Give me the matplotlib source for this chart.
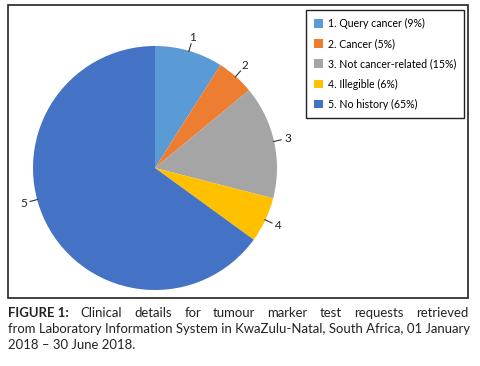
import matplotlib
matplotlib.use("Agg")
import matplotlib.pyplot as plt
import numpy as np
from matplotlib.patches import Rectangle

plt.rcParams['font.family'] = ['Lato', 'DejaVu Sans']

labels = ["1", "2", "3", "4", "5"]
legend_labels = ["1. Query cancer (9%)", "2. Cancer (5%)", "3. Not cancer-related (15%)",
                 "4. Illegible (6%)", "5. No history (65%)"]
values = [9, 5, 15, 6, 65]
colors = ["#5B9BD5", "#ED7D31", "#A5A5A5", "#FFC000", "#4472C4"]

W, H = 480, 366
fig = plt.figure(figsize=(W/100, H/100), dpi=100)

def fx(px): return px / W
def fy(py): return 1 - py / H

# outer frame
fig.add_artist(Rectangle((fx(8), fy(298)), fx(468) - fx(8), fy(5) - fy(298),
                         transform=fig.transFigure, fill=False, edgecolor="#222222", lw=1.2))

cx, cy, r = 155, 168, 122
ax = fig.add_axes([fx(cx - r), fy(cy + r), 2*r/W, 2*r/H])
wedges, _ = ax.pie(values, colors=colors, startangle=90, counterclock=False,
                   radius=1, wedgeprops=dict(linewidth=0))
ax.set_xlim(-1, 1); ax.set_ylim(-1, 1)
ax.set_aspect('equal')
ax.axis('off')

# label angle adjustments (Excel-style placement, degrees)
angle_shift = [0, 0, 0, 0, -12]
total = sum(values)
cum = 0
for lab, v, sh in zip(labels, values, angle_shift):
    mid = 90 - (cum + v/2) / total * 360 + sh
    cum += v
    a = np.deg2rad(mid)
    c, s = np.cos(a), np.sin(a)
    ax.plot([c*0.995, c*1.06], [s*0.995, s*1.06], color="#333333", lw=0.8, clip_on=False)
    ax.text(c*1.115, s*1.115, lab, ha='center', va='center', fontsize=8.5,
            color="#222222", clip_on=False)

fig.legend(wedges, legend_labels, loc='upper left',
           bbox_to_anchor=(fx(306), fy(10)), bbox_transform=fig.transFigure,
           fancybox=False, edgecolor="#222222", framealpha=1, fontsize=7.6,
           handlelength=0.85, handleheight=0.85, handletextpad=0.5,
           labelspacing=0.87, borderpad=0.75, borderaxespad=0)
leg = fig.legends[0]
leg.get_frame().set_linewidth(1.0)

# caption
fs = 9.45
line1 = ["FIGURE 1:", "Clinical", "details", "for", "tumour", "marker", "test", "requests", "retrieved"]
fig.canvas.draw()
renderer = fig.canvas.get_renderer()
texts = []
for i, w in enumerate(line1):
    t = fig.text(0, fy(313), w, fontsize=fs, va='center', ha='left',
                 fontweight='bold' if i == 0 else 'normal', color="#222222")
    texts.append(t)
widths = [t.get_window_extent(renderer).width for t in texts]
x0, x1 = 8, 468
gap = (x1 - x0 - sum(widths)) / (len(texts) - 1)
x = x0
for t, wdt in zip(texts, widths):
    t.set_x(fx(x))
    x += wdt + gap
fig.text(fx(8), fy(329), "from Laboratory Information System in KwaZulu-Natal, South Africa, 01 January",
         fontsize=fs, va='center', ha='left', color="#222222")
fig.text(fx(8), fy(345), "2018 \u2013 30 June 2018.", fontsize=fs, va='center', ha='left', color="#222222")

fig.savefig("out.png", dpi=100)
